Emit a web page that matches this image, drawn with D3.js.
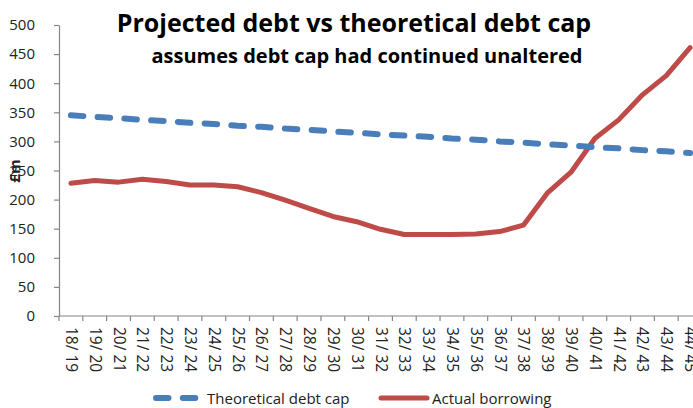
<!DOCTYPE html>
<html>
<head>
<meta charset="utf-8">
<script src="https://cdn.jsdelivr.net/npm/d3@7"></script>
<style>
  html, body { margin: 0; padding: 0; background: #fff; }
  svg { display: block; font-family: "Open Sans", "Noto Sans", sans-serif; }
</style>
</head>
<body>
<svg id="chart" width="693" height="408"></svg>
<script>
// Financial years, 2018/19 to 2044/45
const years = ["18/ 19","19/ 20","20/ 21","21/ 22","22/ 23","23/ 24","24/ 25","25/ 26","26/ 27",
  "27/ 28","28/ 29","29/ 30","30/ 31","31/ 32","32/ 33","33/ 34","34/ 35","35/ 36","36/ 37",
  "37/ 38","38/ 39","39/ 40","40/ 41","41/ 42","42/ 43","43/ 44","44/ 45"];

// Theoretical debt cap (£m)
const debtCap = [345, 342, 340, 337, 335, 332, 330, 327, 325, 322, 320, 317, 315, 312,
  310, 308, 305, 303, 300, 298, 295, 293, 290, 288, 285, 283, 280];

// Actual borrowing (£m)
const borrowing = [228, 233, 230, 235, 231, 225, 225, 222, 212, 199, 185, 171, 162, 149,
  140, 140, 140, 141, 145, 156, 211, 247, 305, 337, 380, 413, 461];

const yTicks = [0, 50, 100, 150, 200, 250, 300, 350, 400, 450, 500];

const svg = d3.select("#chart");
const plot = { left: 59, right: 702, top: 25, bottom: 316 };

const x = d3.scaleBand().domain(years).range([plot.left, plot.right]);
const y = d3.scaleLinear().domain([0, 500]).range([plot.bottom, plot.top]);
const cx = d => x(d) + x.bandwidth() / 2;

const axisColor = "#868686";

// Y axis
const yAxis = svg.append("g")
  .attr("transform", `translate(${plot.left},0)`)
  .call(d3.axisLeft(y).tickValues(yTicks).tickSize(5).tickPadding(19).tickSizeOuter(0));
yAxis.select(".domain").attr("stroke", axisColor).attr("stroke-width", 1.2);
yAxis.selectAll(".tick line").attr("stroke", axisColor).attr("stroke-width", 1.2);
yAxis.selectAll(".tick text").attr("font-size", 15).attr("fill", "#222")
  .attr("font-family", "Open Sans, sans-serif");

// X axis: ticks on category boundaries
const xAxisG = svg.append("g").attr("transform", `translate(0,${plot.bottom})`);
xAxisG.append("line")
  .attr("x1", plot.left).attr("x2", plot.right)
  .attr("stroke", axisColor).attr("stroke-width", 1.2);
const boundaries = years.map(d => x(d)).concat([plot.right]);
xAxisG.selectAll("line.tk").data(boundaries).join("line").attr("class", "tk")
  .attr("x1", d => d).attr("x2", d => d).attr("y1", 0).attr("y2", 5)
  .attr("stroke", axisColor).attr("stroke-width", 1.2);
xAxisG.selectAll("text").data(years).join("text")
  .attr("transform", d => `translate(${cx(d) - 5},11) rotate(90)`)
  .attr("font-size", 15.5).attr("fill", "#222")
  .attr("text-anchor", "start")
  .text(d => d);

// Y axis title
svg.append("text")
  .attr("transform", "translate(20,171) rotate(-90)")
  .attr("text-anchor", "middle")
  .attr("font-size", 15).attr("font-weight", "bold").attr("fill", "#222")
  .text("£m");

// Series lines
const line = d3.line().x((d, i) => cx(years[i])).y(d => y(d));

svg.append("path").datum(borrowing)
  .attr("fill", "none").attr("stroke", "#BE4B48").attr("stroke-width", 5)
  .attr("stroke-linejoin", "round").attr("stroke-linecap", "round")
  .attr("d", line);

svg.append("path").datum(debtCap)
  .attr("fill", "none").attr("stroke", "#4A7EBB").attr("stroke-width", 6)
  .attr("stroke-linecap", "round").attr("stroke-dasharray", "12.5,14.3")
  .attr("d", line);

// Titles
svg.append("text")
  .attr("x", 354).attr("y", 32).attr("text-anchor", "middle")
  .attr("font-size", 25).attr("font-weight", "bold").attr("fill", "#000")
  .text("Projected debt vs theoretical debt cap");
svg.append("text")
  .attr("x", 367).attr("y", 63).attr("text-anchor", "middle")
  .attr("font-size", 20).attr("font-weight", "bold").attr("fill", "#000")
  .text("assumes debt cap had continued unaltered");

// Legend
const legend = [
  { name: "Theoretical debt cap", color: "#4A7EBB", dash: "12.5,14.3", w: 6, x: 156 },
  { name: "Actual borrowing", color: "#BE4B48", dash: null, w: 5, x: 381 }
];
const lg = svg.append("g").selectAll("g").data(legend).join("g")
  .attr("transform", d => `translate(${d.x},398)`);
lg.append("line")
  .attr("x1", 0).attr("x2", 46).attr("y1", 0).attr("y2", 0)
  .attr("stroke", d => d.color).attr("stroke-width", d => d.w)
  .attr("stroke-linecap", "round")
  .attr("stroke-dasharray", d => d.dash);
lg.append("text")
  .attr("x", 51).attr("y", 5.5)
  .attr("font-size", 15).attr("fill", "#222")
  .text(d => d.name);
</script>
</body>
</html>
